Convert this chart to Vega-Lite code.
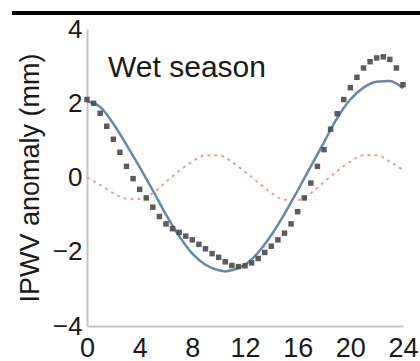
{
  "$schema": "https://vega.github.io/schema/vega-lite/v6.json",
  "autosize": {"type": "none"},
  "width": 316,
  "height": 297,
  "padding": {"left": 87, "top": 29, "right": 17, "bottom": 35},
  "background": "white",
  "config": {
    "view": {"stroke": null},
    "font": "Liberation Sans"
  },
  "datasets": {
    "obs": [
      {"t": 0, "v": 2.1}, {"t": 0.5, "v": 2.0}, {"t": 1, "v": 1.73}, {"t": 1.5, "v": 1.38},
      {"t": 2, "v": 1.03}, {"t": 2.5, "v": 0.68}, {"t": 3, "v": 0.3}, {"t": 3.5, "v": -0.03},
      {"t": 4, "v": -0.32}, {"t": 4.5, "v": -0.55}, {"t": 5, "v": -0.8}, {"t": 5.5, "v": -1.05},
      {"t": 6, "v": -1.25}, {"t": 6.5, "v": -1.38}, {"t": 7, "v": -1.48}, {"t": 7.5, "v": -1.58},
      {"t": 8, "v": -1.68}, {"t": 8.5, "v": -1.8}, {"t": 9, "v": -1.92}, {"t": 9.5, "v": -2.05},
      {"t": 10, "v": -2.15}, {"t": 10.5, "v": -2.27}, {"t": 11, "v": -2.37}, {"t": 11.5, "v": -2.4},
      {"t": 12, "v": -2.38}, {"t": 12.5, "v": -2.3}, {"t": 13, "v": -2.18}, {"t": 13.5, "v": -2.02},
      {"t": 14, "v": -1.85}, {"t": 14.5, "v": -1.68}, {"t": 15, "v": -1.5}, {"t": 15.5, "v": -1.25},
      {"t": 16, "v": -0.92}, {"t": 16.5, "v": -0.55}, {"t": 17, "v": -0.15}, {"t": 17.5, "v": 0.3},
      {"t": 18, "v": 0.75}, {"t": 18.5, "v": 1.3}, {"t": 19, "v": 1.72}, {"t": 19.5, "v": 2.1},
      {"t": 20, "v": 2.42}, {"t": 20.5, "v": 2.7}, {"t": 21, "v": 2.95}, {"t": 21.5, "v": 3.12},
      {"t": 22, "v": 3.22}, {"t": 22.5, "v": 3.25}, {"t": 23, "v": 3.18}, {"t": 23.5, "v": 2.95},
      {"t": 24, "v": 2.5}
    ],
    "fit": [
      {"t": 0, "v": 2.05}, {"t": 0.5, "v": 2.0}, {"t": 1, "v": 1.9}, {"t": 2, "v": 1.45},
      {"t": 3, "v": 0.88}, {"t": 4, "v": 0.28}, {"t": 5, "v": -0.35}, {"t": 6, "v": -1.0},
      {"t": 7, "v": -1.58}, {"t": 8, "v": -2.05}, {"t": 9, "v": -2.35}, {"t": 10, "v": -2.5},
      {"t": 10.5, "v": -2.53}, {"t": 11, "v": -2.5}, {"t": 12, "v": -2.35}, {"t": 13, "v": -2.02},
      {"t": 14, "v": -1.55}, {"t": 15, "v": -0.98}, {"t": 16, "v": -0.35}, {"t": 17, "v": 0.3},
      {"t": 18, "v": 0.95}, {"t": 19, "v": 1.6}, {"t": 20, "v": 2.1}, {"t": 21, "v": 2.42},
      {"t": 22, "v": 2.58}, {"t": 23, "v": 2.6}, {"t": 24, "v": 2.4}
    ],
    "semi": [
      {"t": 0, "v": 0.0}, {"t": 1, "v": -0.2}, {"t": 2, "v": -0.42}, {"t": 3, "v": -0.57},
      {"t": 4, "v": -0.58}, {"t": 5, "v": -0.42}, {"t": 6, "v": -0.12}, {"t": 7, "v": 0.18},
      {"t": 8, "v": 0.43}, {"t": 9, "v": 0.6}, {"t": 10, "v": 0.6}, {"t": 11, "v": 0.42},
      {"t": 12, "v": 0.15}, {"t": 13, "v": -0.13}, {"t": 14, "v": -0.42}, {"t": 15, "v": -0.6},
      {"t": 16, "v": -0.6}, {"t": 17, "v": -0.42}, {"t": 18, "v": -0.12}, {"t": 19, "v": 0.17},
      {"t": 20, "v": 0.43}, {"t": 21, "v": 0.6}, {"t": 22, "v": 0.6}, {"t": 23, "v": 0.43},
      {"t": 24, "v": 0.2}
    ],
    "label": [{"t": 1.6, "v": 2.95, "text": "Wet season"}],
    "frame": [{"t0": -5.7, "t1": 25.6, "y": 4.43}]
  },
  "layer": [
    {
      "data": {"name": "semi"},
      "mark": {"type": "line", "color": "#ef9c9c", "strokeWidth": 2, "strokeDash": [3, 4], "interpolate": "monotone"},
      "encoding": {
        "x": {
          "field": "t", "type": "quantitative",
          "scale": {"domain": [0, 24], "nice": false, "zero": false},
          "axis": {
            "values": [0, 4, 8, 12, 16, 20, 24], "title": null, "grid": false,
            "ticks": false, "domainColor": "#c4c4c4", "domainWidth": 2,
            "labelFontSize": 27, "labelColor": "#1a1a1a", "labelPadding": 9,
            "labelFlush": false
          }
        },
        "y": {
          "field": "v", "type": "quantitative",
          "scale": {"domain": [-4, 4], "nice": false},
          "axis": {
            "values": [-4, -2, 0, 2, 4], "title": "IPWV anomaly (mm)", "grid": false,
            "ticks": false, "domainColor": "#c4c4c4", "domainWidth": 2,
            "labelFontSize": 26, "labelColor": "#1a1a1a", "labelPadding": 5,
            "titleFontSize": 27, "titleFontWeight": "normal", "titleColor": "#1a1a1a",
            "titlePadding": 8, "labelFlush": false
          }
        }
      }
    },
    {
      "data": {"name": "fit"},
      "mark": {"type": "line", "color": "#6688ad", "strokeWidth": 2.5, "interpolate": "monotone"},
      "encoding": {
        "x": {"field": "t", "type": "quantitative"},
        "y": {"field": "v", "type": "quantitative"}
      }
    },
    {
      "data": {"name": "obs"},
      "mark": {"type": "point", "shape": "square", "filled": true, "color": "#4a4a4a", "size": 30, "opacity": 0.9},
      "encoding": {
        "x": {"field": "t", "type": "quantitative"},
        "y": {"field": "v", "type": "quantitative"}
      }
    },
    {
      "data": {"name": "label"},
      "mark": {"type": "text", "align": "left", "baseline": "middle", "fontSize": 30, "color": "#1a1a1a"},
      "encoding": {
        "x": {"field": "t", "type": "quantitative"},
        "y": {"field": "v", "type": "quantitative"},
        "text": {"field": "text"}
      }
    },
    {
      "data": {"name": "frame"},
      "mark": {"type": "rule", "color": "black", "strokeWidth": 4, "clip": false},
      "encoding": {
        "x": {"field": "t0", "type": "quantitative"},
        "x2": {"field": "t1"},
        "y": {"field": "y", "type": "quantitative"}
      }
    }
  ]
}
